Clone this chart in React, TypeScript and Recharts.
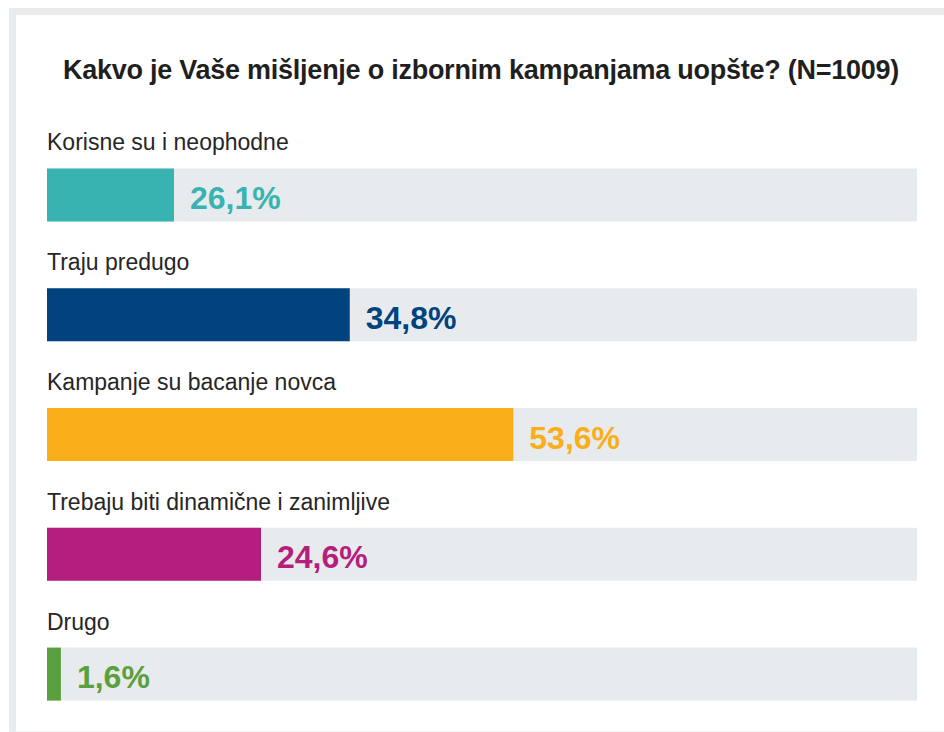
import React from 'react';
import { BarChart, Bar, XAxis, YAxis, Cell, LabelList } from 'recharts';

const title = 'Kakvo je Vaše mišljenje o izbornim kampanjama uopšte? (N=1009)';
const categories = [
  'Korisne su i neophodne',
  'Traju predugo',
  'Kampanje su bacanje novca',
  'Trebaju biti dinamične i zanimljive',
  'Drugo',
];
// percentages printed next to the bars
const shares = [26.1, 34.8, 53.6, 24.6, 1.6];
// bar lengths as drawn in the picture (the first bar is drawn shorter than its label)
const drawnLengths = [14.6, 34.8, 53.6, 24.6, 1.6];
const colors = ['#38B3B1', '#00437E', '#F9AE1A', '#B51E7D', '#5BA03F'];

const data = categories.map((name, i) => ({
  name,
  value: drawnLengths[i],
  share: shares[i],
}));

const fmt = (v: number) => v.toFixed(1).replace('.', ',') + '%';

const FONT = '"Liberation Sans", Arial, Helvetica, sans-serif';

const CategoryLabel = (props: any) => {
  const { y, index } = props;
  return (
    <text x={47} y={y - 18} fontFamily={FONT} fontSize={23} fill="#262626" textAnchor="start">
      {categories[index]}
    </text>
  );
};

const ValueLabel = (props: any) => {
  const { x, y, width, height, index } = props;
  return (
    <text
      x={x + width + 16}
      y={y + height / 2 + 14}
      fontFamily={FONT}
      fontSize={32}
      fontWeight={700}
      fill={colors[index]}
      textAnchor="start"
    >
      {fmt(shares[index])}
    </text>
  );
};

export default function App() {
  return (
    <div style={{ position: 'absolute', left: 0, top: 0, width: 944, height: 732, overflow: 'hidden', background: '#fff' }}>
      <div
        style={{
          position: 'absolute',
          left: 9,
          top: 8,
          width: 928,
          height: 716,
          borderTop: '7px solid #E8ECEF',
          borderLeft: '7px solid #E8ECEF',
          borderBottom: '1px solid #EEF0F2',
        }}
      />
      <svg style={{ position: 'absolute', left: 0, top: 0 }} width={944} height={120}>
        <text
          x={481}
          y={78.5}
          textAnchor="middle"
          fontFamily={FONT}
          fontSize={27}
          fontWeight={700}
          letterSpacing={-0.25}
          fill="#1f1f1f"
        >
          {title}
        </text>
      </svg>
      <div style={{ position: 'absolute', left: 0, top: 0 }}>
        <BarChart
          width={944}
          height={740}
          data={data}
          layout="vertical"
          margin={{ top: 135.4, right: 27, bottom: 5.6, left: 47 }}
        >
          <XAxis type="number" domain={[0, 100]} hide />
          <YAxis type="category" dataKey="name" hide />
          <Bar
            dataKey="value"
            barSize={53}
            background={{ fill: '#E8EBEE' }}
            isAnimationActive={false}
          >
            {data.map((d, i) => (
              <Cell key={d.name} fill={colors[i]} />
            ))}
            <LabelList dataKey="name" content={CategoryLabel} />
            <LabelList dataKey="share" content={ValueLabel} />
          </Bar>
        </BarChart>
      </div>
    </div>
  );
}
